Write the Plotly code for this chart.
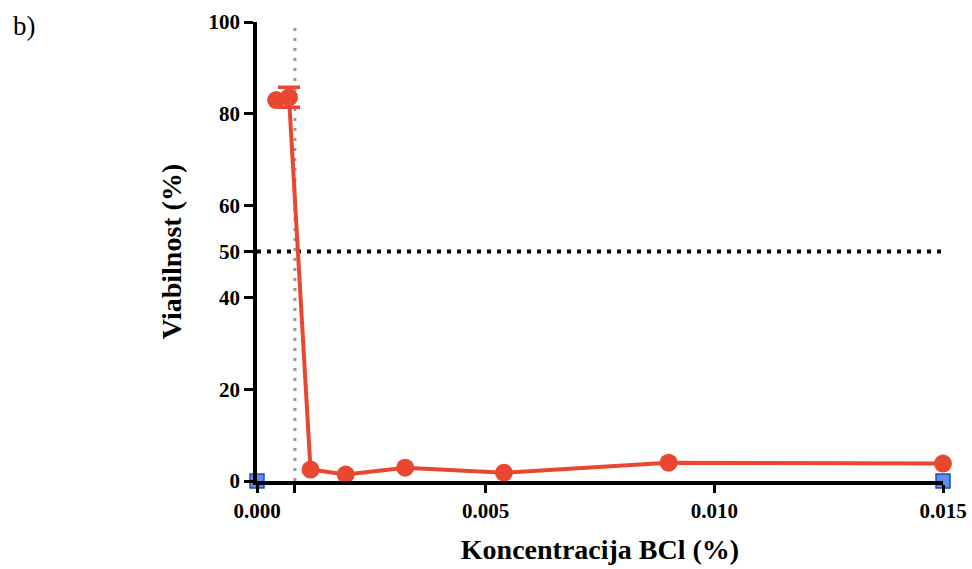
import plotly.graph_objects as go

# Data
conc = [0.00042, 0.0007, 0.00117, 0.00194, 0.00324, 0.0054, 0.009, 0.015]
viab = [83.0, 83.6, 2.5, 1.4, 2.9, 1.8, 4.0, 3.8]
err_x = [0.0007]
err_y = [83.6]
err_val = [2.2]
ctrl_x = [0.0, 0.015]
ctrl_y = [0.0, 0.0]
ic50_x = 0.00083
half_y = 50
x_ticks = [0.0, 0.005, 0.010, 0.015]
x_tick_labels = ["0.000", "0.005", "0.010", "0.015"]
y_ticks = [0, 20, 40, 50, 60, 80, 100]

red = "#ea4731"
font_fam = "'Times New Roman', 'Liberation Serif', 'DejaVu Serif', serif"

fig = go.Figure()

fig.add_trace(go.Scatter(
    x=err_x, y=err_y, mode="markers",
    marker=dict(color=red, size=1, opacity=0),
    error_y=dict(type="data", array=err_val, visible=True, color=red, thickness=3.5, width=11),
    cliponaxis=False, showlegend=False,
))

fig.add_trace(go.Scatter(
    x=conc, y=viab, mode="lines+markers",
    line=dict(color=red, width=4),
    marker=dict(color=red, size=18, symbol="circle"),
    cliponaxis=False, showlegend=False,
))

fig.add_trace(go.Scatter(
    x=ctrl_x, y=ctrl_y, mode="markers",
    marker=dict(color="#5b8fe8", size=14, symbol="square", line=dict(color="#1f4fb0", width=1.5)),
    cliponaxis=False, showlegend=False,
))

# reference lines
fig.add_shape(type="line", x0=ic50_x, x1=ic50_x, y0=0, y1=100, xref="x", yref="y",
              line=dict(color="#999999", width=3, dash="3px,7px"), layer="below")
fig.add_shape(type="line", x0=0, x1=0.015, y0=half_y, y1=half_y, xref="x", yref="y",
              line=dict(color="black", width=4, dash="4px,6px"), layer="below")

fig.update_layout(
    width=972, height=569,
    margin=dict(l=257, r=29, t=22, b=88),
    plot_bgcolor="white", paper_bgcolor="white",
    font=dict(family=font_fam, color="black"),
    xaxis=dict(
        range=[0, 0.015], tickvals=x_ticks, ticktext=x_tick_labels,
        showline=True, linecolor="black", linewidth=3.5,
        ticks="outside", ticklen=8, tickwidth=3, tickcolor="black",
        minor=dict(tickvals=[ic50_x], ticks="outside", ticklen=8, tickwidth=3, tickcolor="black", showgrid=False),
        showgrid=False, zeroline=False, automargin=False,
        tickfont=dict(family=font_fam, size=21, color="black", weight="bold"),
        title=dict(text="<b>Koncentracija BCl (%)</b>", font=dict(family=font_fam, size=28, color="black"), standoff=18),
    ),
    yaxis=dict(
        range=[0, 100], tickvals=y_ticks,
        showline=True, linecolor="black", linewidth=3.5,
        ticks="outside", ticklen=9, tickwidth=3, tickcolor="black",
        showgrid=False, zeroline=False, automargin=False,
        tickfont=dict(family=font_fam, size=21, color="black", weight="bold"),
        title=dict(text="<b>Viabilnost (%)</b>", font=dict(family=font_fam, size=28, color="black"), standoff=20),
    ),
)
fig.add_annotation(text="b)", xref="paper", yref="paper", x=(11 - 257) / 686, y=1 + (22 - 9) / 459,
                   xanchor="left", yanchor="top", showarrow=False,
                   font=dict(family=font_fam, size=27, color="black"))

fig.write_html("out.html")
